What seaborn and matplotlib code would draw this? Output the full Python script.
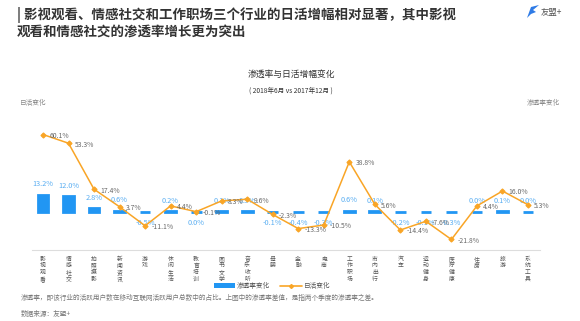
import matplotlib
matplotlib.use("Agg")
import matplotlib.pyplot as plt
import seaborn as sns
import pandas as pd
from matplotlib.patches import Patch, Polygon
from matplotlib.lines import Line2D

categories = ["影视观看", "情感社交", "拍照摄影", "新闻资讯", "游戏", "休闲生活", "教育培训",
              "图书文学", "音乐收听", "母婴", "金融", "电商", "工作职场", "市内出行", "汽车",
              "运动健身", "医疗健康", "住房", "旅游", "系统工具"]
penetration_change = [13.2, 12.0, 2.8, 0.6, -0.5, 0.2, -0.04, 0.1, 0.3, -0.1, -0.4, -0.3,
                      0.6, 0.1, -0.2, -0.1, -0.3, 0.0, 0.1, 0.0]
dau_change = [60.1, 53.3, 17.4, 3.7, -11.1, 4.4, -0.1, 8.3, 9.6, -2.3, -13.3, -10.5,
              38.8, 5.6, -14.4, -7.6, -21.8, 4.4, 16.0, 5.3]

BLUE = "#2196F3"
BLUE_TXT = "#5AAEF2"
ORANGE = "#F9A526"
W, H = 580, 321

sns.set_theme(style="white")
plt.rcParams["font.family"] = ["Noto Sans CJK SC", "DejaVu Sans"]

df = pd.DataFrame({"cat": categories, "pen": penetration_change, "dau": dau_change})

fig = plt.figure(figsize=(W / 100, H / 100), dpi=100)
ax = fig.add_axes([32 / W, 1 - 250 / H, (540 - 32) / W, (250 - 109) / H])
ax2 = ax.twinx()

sns.barplot(data=df, x="cat", y="pen", ax=ax, color=BLUE, width=0.42,
            edgecolor=BLUE, linewidth=2.0, saturation=1)
sns.pointplot(data=df, x="cat", y="dau", ax=ax2, color=ORANGE, markers="D",
              markersize=2.6, linewidth=1.1, errorbar=None)

ylim = (-30, 80)
for a in (ax, ax2):
    a.set_ylim(*ylim)
    a.set_xlim(-0.43, 19.47)
    a.set_ylabel("")
    a.set_xlabel("")
    a.set_yticks([])
    for s in ("top", "left", "right"):
        a.spines[s].set_visible(False)
    a.spines["bottom"].set_color("#dddddd")
    a.spines["bottom"].set_linewidth(0.8)
    a.grid(False)
ax2.spines["bottom"].set_visible(False)

ax.set_xticks(range(len(categories)))
ax.set_xticklabels([])
ax.tick_params(axis="x", length=0)
ax2.tick_params(axis="x", length=0, labelbottom=False)

# vertical category labels, one character per line
xtrans = ax.get_xaxis_transform()
for i, name in enumerate(categories):
    for j, ch in enumerate(name):
        ax.annotate(ch, (i, 0), xycoords=xtrans, xytext=(0, -6.5 - j * 4.9),
                    textcoords="offset points", ha="center", va="center",
                    fontsize=4.2, color="#555555", annotation_clip=False)

# penetration labels
for i, v in enumerate(penetration_change):
    txt = "%.1f%%" % (round(v, 1) + 0.0)
    if v >= 0:
        ax.annotate(txt, (i, v), xytext=(0, 7.5), textcoords="offset points",
                    ha="center", va="center", fontsize=5.3, color=BLUE_TXT)
    else:
        ax.annotate(txt, (i, v), xytext=(0, -8), textcoords="offset points",
                    ha="center", va="center", fontsize=5.3, color=BLUE_TXT)

# daily active change labels
for i, v in enumerate(dau_change):
    ax2.annotate("%.1f%%" % v, (i, v), xytext=(4.5, -1), textcoords="offset points",
                 ha="left", va="center", fontsize=4.9, color="#666666")

# texts
fig.text(17 / W, 1 - 15 / H, "| 影视观看、情感社交和工作职场三个行业的日活增幅相对显著，其中影视",
         fontsize=9.7, fontweight="bold", color="#333333", va="center", ha="left")
fig.text(17 / W, 1 - 32 / H, "观看和情感社交的渗透率增长更为突出",
         fontsize=9.7, fontweight="bold", color="#333333", va="center", ha="left")

logo = Polygon([[527 / W, 1 - 18 / H], [531 / W, 1 - 7 / H], [539 / W, 1 - 5 / H],
                [533 / W, 1 - 10 / H], [536 / W, 1 - 12 / H], [531 / W, 1 - 14 / H]],
               closed=True, transform=fig.transFigure, facecolor="#2E7BE6", edgecolor="none")
fig.patches.append(logo)
fig.text(541 / W, 1 - 12 / H, "友盟+", fontsize=6, color="#555555", va="center", ha="left")

fig.text(291 / W, 1 - 74 / H, "渗透率与日活增幅变化", fontsize=6.3, color="#333333",
         ha="center", va="center")
fig.text(291 / W, 1 - 91 / H, "( 2018年6月 vs 2017年12月 )", fontsize=4.8, color="#333333",
         ha="center", va="center")
fig.text(20 / W, 1 - 103 / H, "日活变化", fontsize=4.8, color="#888888", ha="left", va="center")
fig.text(560 / W, 1 - 103 / H, "渗透率变化", fontsize=4.8, color="#888888", ha="right", va="center")

handles = [Patch(facecolor=BLUE, edgecolor="none"),
           Line2D([0], [0], color=ORANGE, marker="D", markersize=2, linewidth=1.2)]
fig.legend(handles, ["渗透率变化", "日活变化"], loc="center", ncol=2,
           bbox_to_anchor=(272 / W, 1 - 286 / H), bbox_transform=fig.transFigure,
           frameon=False, fontsize=4.8, handlelength=3.2, handleheight=0.7,
           columnspacing=1.5, handletextpad=0.3, labelcolor="#555555")

fig.text(21 / W, 1 - 298 / H,
         "渗透率，即该行业的活跃用户数在移动互联网活跃用户总数中的占比。上图中的渗透率差值，是指两个季度的渗透率之差。",
         fontsize=4.8, color="#777777", ha="left", va="center")
fig.text(21 / W, 1 - 314 / H, "数据来源：友盟+", fontsize=4.8, color="#777777",
         ha="left", va="center")

fig.savefig("out.png", dpi=100)
